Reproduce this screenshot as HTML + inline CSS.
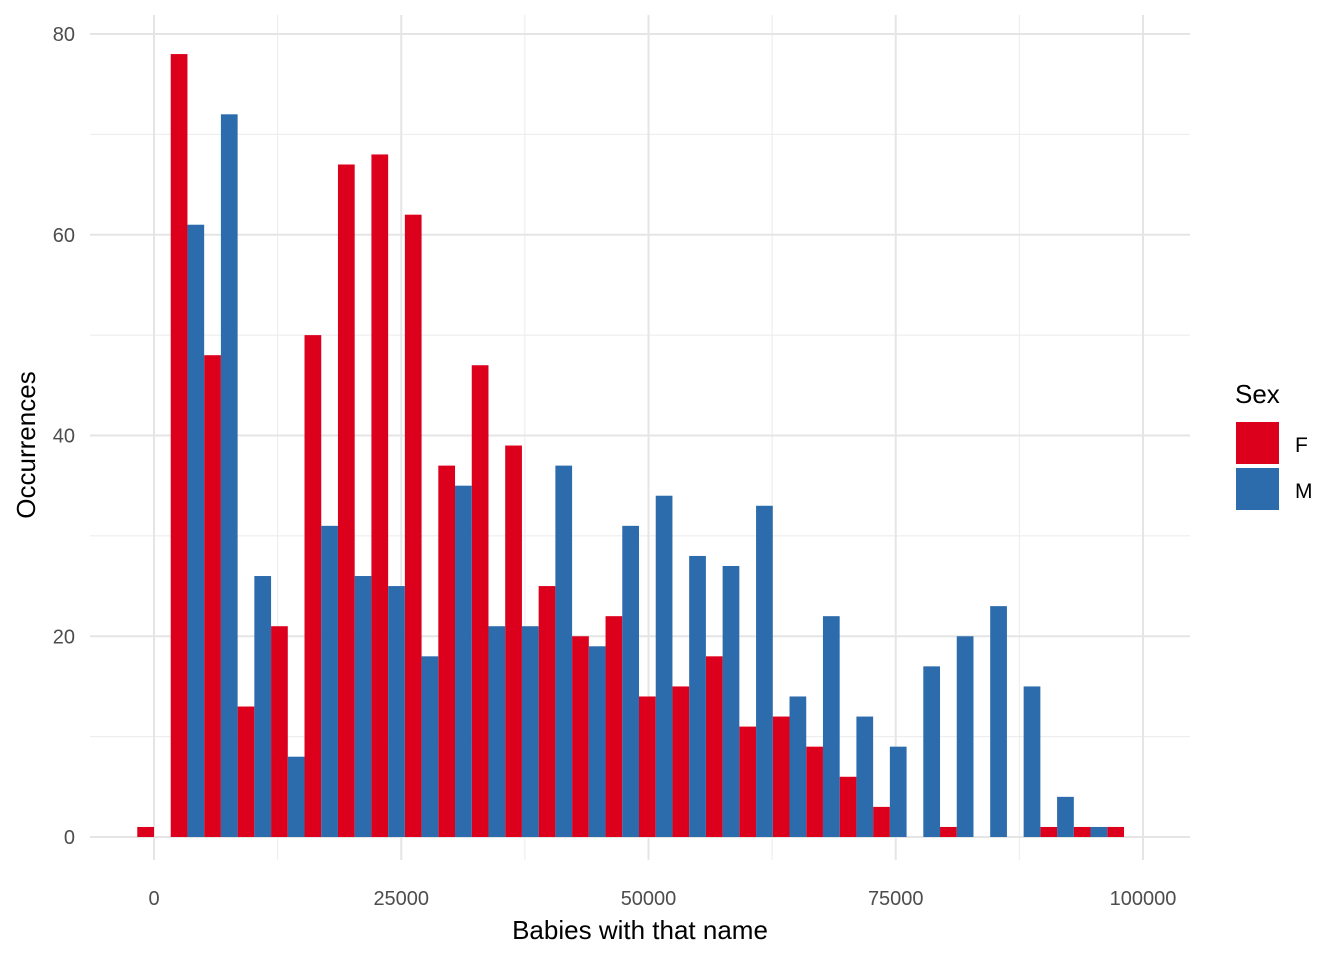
<!DOCTYPE html>
<html><head><meta charset="utf-8"><style>
body{margin:0;background:#fff}
text{font-family:"Liberation Sans",Arial,sans-serif}
</style></head><body>
<svg id="chart" width="1344" height="960" xmlns="http://www.w3.org/2000/svg">
<g id="grid"></g>
<g id="bars"></g>
<g id="axes"></g>
<text x="640" y="939" font-size="26" text-anchor="middle" fill="#000">Babies with that name</text>
<text transform="translate(35,445) rotate(-90)" font-size="26" text-anchor="middle" fill="#000">Occurrences</text>
<g>
<text x="1235" y="403" font-size="26" fill="#000">Sex</text>
<rect x="1236" y="422" width="43" height="42" fill="#DC001C"/>
<rect x="1236" y="468" width="43" height="42" fill="#2C6BAC"/>
<text x="1295" y="452" font-size="21" fill="#000">F</text>
<text x="1295" y="498" font-size="21" fill="#000">M</text>
</g>
</svg>
<script>
const femaleCounts=[1,78,48,13,21,50,67,68,62,37,47,39,25,20,22,14,15,18,11,12,9,6,3,0,1,0,0,1,1,1];
const maleCounts=[0,61,72,26,8,31,26,25,18,35,21,21,37,19,31,34,28,27,33,14,22,12,9,17,20,23,15,4,1,0];
const xTicks=[0,25000,50000,75000,100000];
const yTicks=[0,20,40,60,80];
const binWidth=3382;
const NS="http://www.w3.org/2000/svg";
const X=v=>154+(v/100000)*(1143-154);
const Y=v=>837-(v/80)*(837-34);
const L=90,R=1190,T=15,B=860;
function mk(tag,attrs,parent){const e=document.createElementNS(NS,tag);for(const k in attrs)e.setAttribute(k,attrs[k]);parent.appendChild(e);return e;}
const grid=document.getElementById('grid'),bars=document.getElementById('bars'),axes=document.getElementById('axes');
// minor grid
for(let i=0;i<xTicks.length-1;i++){const m=(xTicks[i]+xTicks[i+1])/2;const l=mk('line',{x1:X(m),x2:X(m),y1:T,y2:B,stroke:'#ebebeb','stroke-width':1},grid);}
for(let i=0;i<yTicks.length-1;i++){const m=(yTicks[i]+yTicks[i+1])/2;const l=mk('line',{x1:L,x2:R,y1:Y(m),y2:Y(m),stroke:'#ebebeb','stroke-width':1},grid);}
xTicks.forEach(t=>{const l=mk('line',{x1:X(t),x2:X(t),y1:T,y2:B,stroke:'#e5e5e5','stroke-width':2},grid);
const tx=mk('text',{x:X(t),y:905,'font-size':20,'text-anchor':'middle',fill:'#4d4d4d'},axes);tx.textContent=t;});
yTicks.forEach(t=>{const l=mk('line',{x1:L,x2:R,y1:Y(t),y2:Y(t),stroke:'#e5e5e5','stroke-width':2},grid);
const tx=mk('text',{x:75,y:Y(t)+7,'font-size':20,'text-anchor':'end',fill:'#4d4d4d'},axes);tx.textContent=t;});
const bw=X(binWidth)-X(0);
femaleCounts.forEach((v,k)=>{const c=X(k*binWidth);if(v>0){const r=mk('rect',{x:c-bw/2,y:Y(v),width:bw/2,height:Y(0)-Y(v),fill:'#DC001C'},bars);}});
maleCounts.forEach((v,k)=>{const c=X(k*binWidth);if(v>0){const r=mk('rect',{x:c,y:Y(v),width:bw/2,height:Y(0)-Y(v),fill:'#2C6BAC'},bars);}});
</script>
</body></html>
